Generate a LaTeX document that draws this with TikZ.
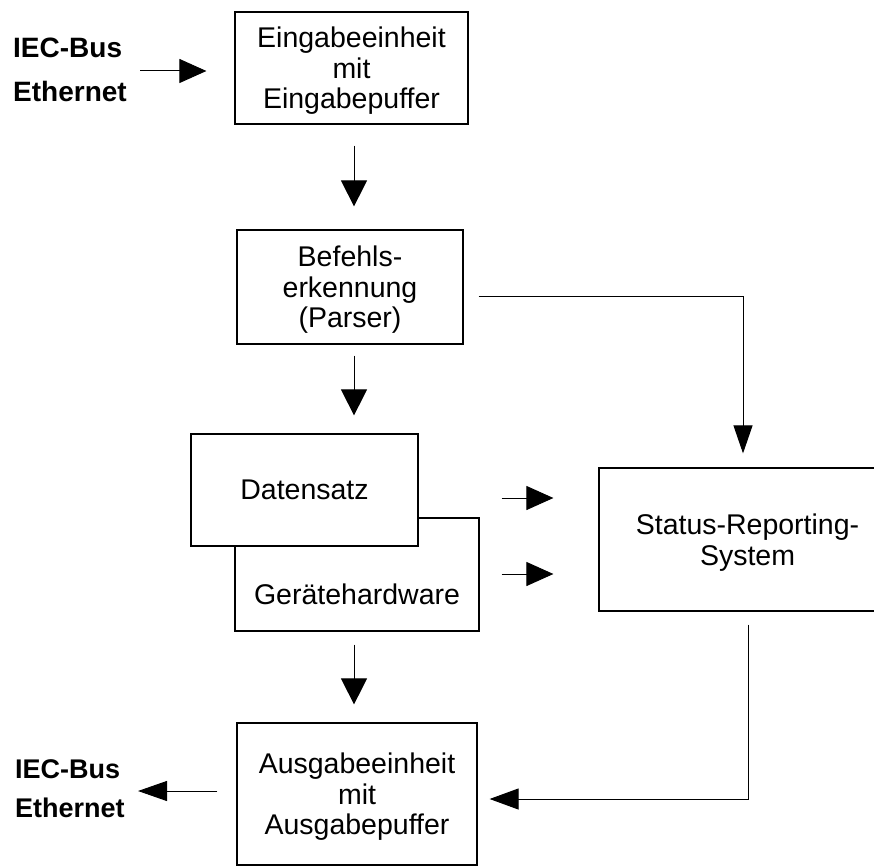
\documentclass[tikz,border=0pt]{standalone}
\usepackage{fontspec}
\setmainfont{Liberation Sans}
\usetikzlibrary{arrows.meta}
\begin{document}
\begin{tikzpicture}[x=1pt,y=-1pt,
  box/.style={draw=black, line width=1.2pt, fill=white, align=center, inner sep=0pt,
              text depth=0pt, font=\fontsize{28.5}{30.5}\selectfont},
  conn/.style={draw=black, line width=1pt},
  arr/.style={conn, -{Triangle[length=27pt,width=24pt]}},
  varr/.style={conn, -{Triangle[length=26pt,width=26pt]}},
  ext/.style={align=left, inner sep=0pt, anchor=north west}
]
\useasboundingbox (0,0) rectangle (874,866);
\clip (0,0) rectangle (874,866);
\fill[white] (0,0) rectangle (874,866);

% boxes
\node[box, minimum width=233pt, minimum height=112pt] (ein) at (351.5,68) {Eingabeeinheit\\mit\\Eingabepuffer};
\node[box, minimum width=226pt, minimum height=114pt] (bef) at (350,287) {Befehls-\\erkennung\\(Parser)};
\node[box, minimum width=244pt, minimum height=113pt] (ger) at (357,574.5) {\raisebox{-20pt}[\height][\depth]{Gerätehardware}};
\node[box, minimum width=227pt, minimum height=112pt] (dat) at (304.5,490) {Datensatz};
\node[box, minimum width=297pt, minimum height=143pt] (st) at (747.5,539.5) {Status-Reporting-\\System};
\node[box, minimum width=240pt, minimum height=142pt] (aus) at (357,794) {Ausgabeeinheit\\mit\\Ausgabepuffer};

% external labels
\node[ext, font=\bfseries\fontsize{28}{44}\selectfont] (iecin) at (13,38) {IEC-Bus\\Ethernet};
\node[ext, font=\bfseries\fontsize{27}{39}\selectfont] (iecout) at (15,759.5) {IEC-Bus\\Ethernet};

% helper coordinates
\coordinate (colx) at (354,0);
\coordinate (inp) at (140,71);
\coordinate (outp) at (138,791);
\coordinate (rx) at (743,296);
\coordinate (r1) at (0,498);
\coordinate (r2) at (0,574);
\coordinate (bx) at (748,799);

% connectors
\draw[arr, shorten >=28pt] (inp) -- (ein.west |- inp);
\draw[varr, shorten <=21pt, shorten >=23pt] (ein.south -| colx) -- (bef.north -| colx);
\draw[varr, shorten <=11pt, shorten >=18pt] (bef.south -| colx) -- (dat.north -| colx);
\draw[varr, shorten <=13pt, shorten >=18pt] (ger.south -| colx) -- (aus.north -| colx);
\draw[conn, -{Triangle[length=28pt,width=19pt]}, shorten <=15pt, shorten >=14pt] (bef.east |- rx) -| (st.north -| rx);
\draw[arr, shorten <=22pt, shorten >=45pt] (ger.east |- r1) -- (st.west |- r1);
\draw[arr, shorten <=22pt, shorten >=45pt] (ger.east |- r2) -- (st.west |- r2);
\draw[conn, -{Triangle[length=29pt,width=21pt]}, shorten <=13pt, shorten >=12pt] (st.south -| bx) |- (aus.east |- bx);
\draw[conn, -{Triangle[length=29pt,width=20pt]}, shorten <=19pt] (aus.west |- outp) -- (outp);
\end{tikzpicture}
\end{document}
